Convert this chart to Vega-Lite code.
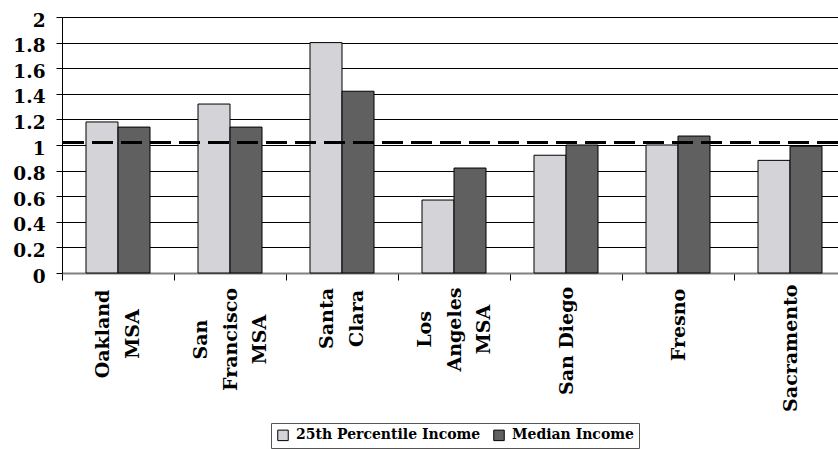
{
  "$schema": "https://vega.github.io/schema/vega-lite/v6.json",
  "width": 776,
  "height": 256,
  "autosize": {"type": "none"},
  "padding": {"left": 62, "top": 17, "right": 0, "bottom": 176},
  "background": "white",
  "config": {
    "view": {"stroke": null},
    "font": "DejaVu Serif",
    "axis": {"labelFont": "DejaVu Serif", "labelFontWeight": "bold", "labelColor": "black"},
    "legend": {"labelFont": "DejaVu Serif", "labelFontWeight": "bold", "labelColor": "black"}
  },
  "datasets": {
    "income": [
      {"region": "Oakland MSA", "measure": "25th Percentile Income", "ratio": 1.18},
      {"region": "Oakland MSA", "measure": "Median Income", "ratio": 1.14},
      {"region": "San Francisco MSA", "measure": "25th Percentile Income", "ratio": 1.32},
      {"region": "San Francisco MSA", "measure": "Median Income", "ratio": 1.14},
      {"region": "Santa Clara", "measure": "25th Percentile Income", "ratio": 1.80},
      {"region": "Santa Clara", "measure": "Median Income", "ratio": 1.42},
      {"region": "Los Angeles MSA", "measure": "25th Percentile Income", "ratio": 0.57},
      {"region": "Los Angeles MSA", "measure": "Median Income", "ratio": 0.82},
      {"region": "San Diego", "measure": "25th Percentile Income", "ratio": 0.92},
      {"region": "San Diego", "measure": "Median Income", "ratio": 1.00},
      {"region": "Fresno", "measure": "25th Percentile Income", "ratio": 1.00},
      {"region": "Fresno", "measure": "Median Income", "ratio": 1.07},
      {"region": "Sacramento", "measure": "25th Percentile Income", "ratio": 0.88},
      {"region": "Sacramento", "measure": "Median Income", "ratio": 0.99}
    ],
    "parity": [{"ratio": 1.02}]
  },
  "encoding": {
    "y": {
      "field": "ratio",
      "type": "quantitative",
      "scale": {"domain": [0, 2], "nice": false, "zero": true},
      "axis": {
        "title": null,
        "values": [0, 0.2, 0.4, 0.6, 0.8, 1, 1.2, 1.4, 1.6, 1.8, 2],
        "labelExpr": "format(datum.value, '~g')",
        "labelFontSize": 18.5,
        "labelPadding": 11,
        "labelOffset": 3,
        "labelFlush": false,
        "labelOverlap": false,
        "labelBound": false,
        "tickSize": 6,
        "tickColor": "black",
        "domainColor": "black",
        "domainWidth": 1,
        "grid": true,
        "gridColor": "black",
        "gridWidth": 1
      }
    }
  },
  "layer": [
    {
      "data": {"name": "income"},
      "mark": {"type": "bar", "stroke": "black", "strokeWidth": 1},
      "encoding": {
        "x": {
          "field": "region",
          "type": "nominal",
          "sort": null,
          "scale": {"range": [0, 784], "paddingInner": 0, "paddingOuter": 0},
          "axis": {
            "title": null,
            "labelAngle": -90,
            "labelAlign": "center",
            "labelBaseline": "middle",
            "labelFontSize": 19,
            "labelLineHeight": 29.5,
            "labelPadding": {
              "condition": [
                {"test": "datum.value == 'Oakland MSA'", "value": 53.5},
                {"test": "datum.value == 'San Francisco MSA'", "value": 59},
                {"test": "datum.value == 'Santa Clara'", "value": 38},
                {"test": "datum.value == 'Los Angeles MSA'", "value": 49},
                {"test": "datum.value == 'San Diego'", "value": 60.5},
                {"test": "datum.value == 'Fresno'", "value": 44.5}
              ],
              "value": 67.7
            },
            "labelOffset": {
              "condition": [
                {"test": "datum.value == 'San Francisco MSA' || datum.value == 'Los Angeles MSA'", "value": -29.5},
                {"test": "datum.value == 'Oakland MSA' || datum.value == 'Santa Clara'", "value": -15.5}
              ],
              "value": 0
            },
            "labelOverlap": false,
            "labelBound": false,
            "labelFlush": false,
            "labelLimit": 0,
            "labelExpr": "datum.value == 'Oakland MSA' ? ['Oakland', 'MSA'] : datum.value == 'San Francisco MSA' ? ['San', 'Francisco', 'MSA'] : datum.value == 'Santa Clara' ? ['Santa', 'Clara'] : datum.value == 'Los Angeles MSA' ? ['Los', 'Angeles', 'MSA'] : datum.label",
            "tickBand": "extent",
            "tickSize": 7,
            "tickColor": "black",
            "tickWidth": 1,
            "domainColor": "#808080",
            "domainWidth": 2,
            "grid": false
          }
        },
        "xOffset": {
          "field": "measure",
          "type": "nominal",
          "sort": ["25th Percentile Income", "Median Income"],
          "scale": {"paddingInner": 0, "paddingOuter": 0.75}
        },
        "color": {
          "field": "measure",
          "type": "nominal",
          "sort": ["25th Percentile Income", "Median Income"],
          "scale": {
            "domain": ["25th Percentile Income", "Median Income"],
            "range": ["#D3D3D8", "#606060"]
          },
          "legend": {
            "orient": "none",
            "legendX": 209,
            "legendY": 406,
            "direction": "horizontal",
            "title": null,
            "symbolType": "square",
            "symbolSize": 110,
            "symbolStrokeColor": "black",
            "symbolStrokeWidth": 1,
            "symbolOpacity": 1,
            "labelFontSize": 14,
            "labelLimit": 0,
            "labelOffset": 6,
            "columnPadding": 10,
            "padding": 5,
            "strokeColor": "#555555",
            "fillColor": "white"
          }
        }
      }
    },
    {
      "data": {"name": "parity"},
      "mark": {"type": "rule", "color": "black", "strokeWidth": 3, "strokeDash": [21, 8]},
      "encoding": {}
    }
  ]
}
